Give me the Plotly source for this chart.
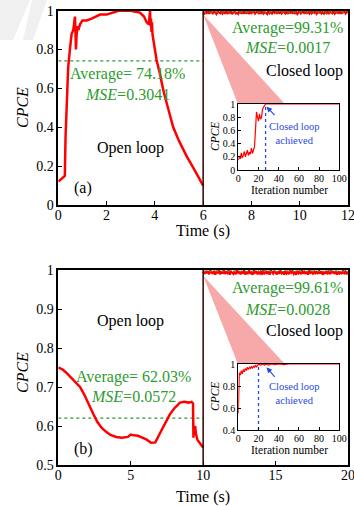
import plotly.graph_objects as go
import numpy as np

W, H = 354, 506
SERIF = "Liberation Serif"

# ---------------- DATA ----------------
# Panel (a) open loop
a_open_t = [0, 0.1, 0.2, 0.27, 0.3, 0.35, 0.41, 0.48, 0.55, 0.62, 0.69, 0.71, 0.73, 0.76, 0.8, 0.83,
            0.9, 1.0, 1.18, 1.4, 1.73, 2.0, 2.28, 2.5, 2.7, 3.0, 3.2, 3.38, 3.55, 3.66, 3.75, 3.78,
            3.8, 3.82, 3.84, 3.86, 3.88, 3.9, 3.94, 4.07, 4.2, 4.35, 4.5, 4.76, 5.0, 5.32, 5.6, 5.87, 6.0]
a_open_y = [0.12, 0.13, 0.14, 0.15, 0.35, 0.55, 0.71, 0.80, 0.88, 0.90, 0.97, 0.90, 0.80, 0.88, 0.92, 0.90,
            0.93, 0.95, 0.95, 0.96, 0.98, 0.98, 0.99, 1.0, 1.0, 1.0, 0.995, 0.99, 0.97, 0.94, 0.93, 0.97,
            1.0, 0.92, 0.96, 0.89, 0.94, 0.88, 0.85, 0.746, 0.68, 0.59, 0.52, 0.40, 0.33, 0.25, 0.19, 0.13, 0.10]
# Panel (a) closed loop (t = 6..12)
a_closed_y = [0.99, 0.985, 0.995, 0.988, 0.998, 0.984, 0.996, 0.99, 0.986, 0.997, 0.989, 0.983, 0.995,
              0.991, 0.987, 0.999, 0.985, 0.993, 0.988, 0.997, 0.984, 0.994, 0.989, 0.998, 0.983, 0.992,
              0.996, 0.986, 0.99, 0.984, 0.997, 0.989, 0.987, 0.999, 0.985, 0.995, 0.988, 0.993, 0.984,
              0.998, 0.987, 0.991, 0.996, 0.985, 0.99, 0.999, 0.984, 0.994, 0.988, 0.997, 0.985, 0.992,
              0.99, 0.983, 0.998, 0.987, 0.993, 0.986, 0.999, 0.989, 0.995, 0.984, 0.996, 0.988, 0.992,
              0.985, 0.998, 0.99, 0.986, 0.997, 0.984, 0.993, 0.989, 0.999, 0.985, 0.994, 0.987, 0.996,
              0.983, 0.991, 0.998, 0.986, 0.99, 0.997, 0.984, 0.995, 0.988, 0.992, 0.985, 0.999, 0.987,
              0.994, 0.989, 0.996, 0.984, 0.993, 0.99, 0.998, 0.986, 0.992, 0.985, 0.997, 0.988, 0.994,
              0.983, 0.996, 0.99, 0.987, 0.999, 0.985, 0.993, 0.989, 0.997, 0.984, 0.995, 0.988, 0.991,
              0.998, 0.986, 0.994, 0.99]
a_closed_t = np.linspace(6, 12, len(a_closed_y))
a_avg_open, a_avg_closed = 0.7418, 0.9931

# Panel (a) inset (iteration number)
a_in_x = [0, 1, 2, 3, 4, 5, 6, 7, 8, 9, 10, 11, 12, 13, 14, 15, 16, 17, 18, 19, 20, 21, 22, 23, 24, 25, 26, 27, 100]
a_in_y = [0.15, 0.2, 0.17, 0.26, 0.18, 0.22, 0.28, 0.2, 0.25, 0.3, 0.22, 0.27, 0.24, 0.33, 0.25, 0.3, 0.35,
          0.6, 0.88, 0.8, 0.74, 0.85, 0.77, 0.8, 0.92, 0.95, 0.98, 1.0, 1.0]
a_in_achieved = 27

# Panel (b) open loop
b_open_t = [0, 0.3, 0.6, 1.0, 1.5, 1.8, 2.1, 2.4, 2.7, 3.0, 3.3, 3.6, 4.0, 4.4, 4.8, 5.0, 5.2, 5.5, 5.8,
            6.1, 6.4, 6.7, 7.0, 7.3, 7.7, 8.0, 8.4, 8.7, 9.0, 9.2, 9.3, 9.33, 9.36, 9.4, 9.45, 9.5, 9.6,
            9.7, 9.8, 9.9, 10.0]
b_open_y = [0.75, 0.745, 0.735, 0.72, 0.70, 0.68, 0.655, 0.632, 0.61, 0.595, 0.585, 0.577, 0.572, 0.57,
            0.572, 0.578, 0.576, 0.575, 0.57, 0.565, 0.557, 0.558, 0.58, 0.60, 0.63, 0.645, 0.66, 0.662,
            0.66, 0.662, 0.658, 0.57, 0.6, 0.59, 0.6, 0.58, 0.565, 0.56, 0.555, 0.55, 0.545]
# Panel (b) closed loop (t = 10..20)
b_closed_y = [0.995, 0.99, 0.998, 0.992, 0.997, 0.989, 0.999, 0.994, 0.99, 0.998, 0.988, 0.996, 0.993,
              0.999, 0.989, 0.997, 0.991, 0.999, 0.99, 0.995, 0.992, 0.999, 0.988, 0.996, 0.994, 0.99,
              0.998, 0.989, 0.999, 0.993, 0.997, 0.989, 0.995, 0.991, 0.999, 0.988, 0.996, 0.992, 0.999,
              0.99, 0.994, 0.988, 0.999, 0.993, 0.997, 0.989, 0.995, 0.991, 0.998, 0.988, 0.999, 0.992,
              0.996, 0.99, 0.997, 0.988, 0.999, 0.994, 0.991, 0.998, 0.993, 0.989, 0.997, 0.99, 0.999,
              0.992, 0.996, 0.988, 0.998, 0.991, 0.995, 0.989, 0.999, 0.993, 0.997, 0.99, 0.994, 0.988,
              0.998, 0.992, 0.996, 0.989, 0.999, 0.991, 0.995, 0.99, 0.997, 0.988, 0.999, 0.993, 0.996,
              0.989, 0.998, 0.992, 0.995, 0.99, 0.999, 0.991, 0.997, 0.988, 0.994, 0.99, 0.998, 0.992,
              0.996, 0.989, 0.999, 0.993, 0.995, 0.99, 0.998, 0.988, 0.997, 0.991, 0.994, 0.99, 0.999,
              0.992, 0.996, 0.989, 0.995]
b_closed_t = np.linspace(10, 20, len(b_closed_y))
b_avg_open, b_avg_closed = 0.6203, 0.9961

# Panel (b) inset
b_in_x = [0, 1, 2, 3, 4, 5, 6, 7, 8, 9, 10, 11, 12, 13, 14, 15, 16, 17, 18, 19, 20, 22, 24, 26, 28, 30,
          33, 36, 40, 45, 50, 100]
b_in_y = [0.55, 0.92, 0.9, 0.94, 0.91, 0.95, 0.93, 0.96, 0.94, 0.97, 0.95, 0.97, 0.96, 0.98, 0.96, 0.98,
          0.97, 0.99, 0.97, 0.99, 1.0, 0.99, 1.0, 0.99, 1.0, 0.99, 1.0, 0.995, 1.0, 0.995, 1.0, 1.0]
b_in_achieved = 20

# ---------------- LAYOUT HELPERS ----------------
def px(x):
    return x / W

def py(y):
    return 1 - y / H

RED = "#ff0000"
GREEN = "#2e9b2e"
BLUE = "#2846e0"
PINK = "#f7a9a9"

fig = go.Figure()

# main traces
fig.add_trace(go.Scatter(x=[0, 6], y=[a_avg_open] * 2, mode="lines",
                         line=dict(color=GREEN, width=1.3, dash="dot"), xaxis="x", yaxis="y"))
fig.add_trace(go.Scatter(x=a_open_t, y=a_open_y, mode="lines",
                         line=dict(color=RED, width=2.5), xaxis="x", yaxis="y"))
fig.add_trace(go.Scatter(x=a_closed_t, y=a_closed_y, mode="lines",
                         line=dict(color=RED, width=2.2), xaxis="x", yaxis="y"))
fig.add_trace(go.Scatter(x=[6, 12], y=[a_avg_closed] * 2, mode="lines",
                         line=dict(color=GREEN, width=1.0, dash="dot"), xaxis="x", yaxis="y"))

fig.add_trace(go.Scatter(x=a_in_x, y=a_in_y, mode="lines",
                         line=dict(color=RED, width=1.2), xaxis="x2", yaxis="y2"))
fig.add_trace(go.Scatter(x=[a_in_achieved] * 2, y=[0, 1], mode="lines",
                         line=dict(color=BLUE, width=1.3, dash="dot"), xaxis="x2", yaxis="y2"))

fig.add_trace(go.Scatter(x=[0, 10], y=[b_avg_open] * 2, mode="lines",
                         line=dict(color=GREEN, width=1.3, dash="dot"), xaxis="x3", yaxis="y3"))
fig.add_trace(go.Scatter(x=b_open_t, y=b_open_y, mode="lines",
                         line=dict(color=RED, width=2.5), xaxis="x3", yaxis="y3"))
fig.add_trace(go.Scatter(x=b_closed_t, y=b_closed_y, mode="lines",
                         line=dict(color=RED, width=2.2), xaxis="x3", yaxis="y3"))
fig.add_trace(go.Scatter(x=[10, 20], y=[b_avg_closed] * 2, mode="lines",
                         line=dict(color=GREEN, width=1.0, dash="dot"), xaxis="x3", yaxis="y3"))

fig.add_trace(go.Scatter(x=b_in_x, y=b_in_y, mode="lines",
                         line=dict(color=RED, width=1.2), xaxis="x4", yaxis="y4"))
fig.add_trace(go.Scatter(x=[b_in_achieved] * 2, y=[0.4, 1], mode="lines",
                         line=dict(color=BLUE, width=1.3, dash="dot"), xaxis="x4", yaxis="y4"))

def ax(**kw):
    d = dict(showline=True, linecolor="black", linewidth=1.5, mirror=True, ticks="inside",
             ticklen=4, tickcolor="black", showgrid=False, zeroline=False, automargin=False,
             ticklabeloverflow="allow",
             tickfont=dict(family=SERIF, size=14, color="black"))
    d.update(kw)
    return d

def inax(**kw):
    d = ax(ticklen=3, tickfont=dict(family=SERIF, size=10, color="black"), linewidth=1.3)
    d.update(kw)
    return d

main_x = [px(58.3), px(348)]
in_x = [px(238.3), px(339.3)]

fig.update_layout(
    width=W, height=H, margin=dict(l=0, r=0, t=0, b=0, autoexpand=False),
    paper_bgcolor="white", plot_bgcolor="white", showlegend=False,
    xaxis=ax(domain=main_x, anchor="y", range=[0, 12], dtick=2, ticklabelstandoff=-4),
    yaxis=ax(domain=[py(205), py(10.7)], anchor="x", range=[0, 1], dtick=0.2),
    xaxis2=inax(domain=in_x, anchor="y2", range=[0, 100], dtick=20, ticklabelstandoff=-1),
    yaxis2=inax(domain=[py(170), py(104)], anchor="x2", range=[0, 1], dtick=0.2),
    xaxis3=ax(domain=main_x, anchor="y3", range=[0, 20], dtick=5, ticklabelstandoff=-4),
    yaxis3=ax(domain=[py(465), py(270)], anchor="x3", range=[0.5, 1], dtick=0.1),
    xaxis4=inax(domain=in_x, anchor="y4", range=[0, 100], dtick=20, ticklabelstandoff=-1),
    yaxis4=inax(domain=[py(430), py(364)], anchor="x4", range=[0.4, 1], dtick=0.2),
)

shapes = [
    # watermark
    dict(type="path", xref="paper", yref="paper", layer="below",
         path=f"M 0,1 L {px(30)},1 L {px(13)},{py(40)} L 0,{py(40)} Z",
         fillcolor="#f0f0f0", line=dict(width=0)),
    dict(type="path", xref="paper", yref="paper", layer="below",
         path=f"M {px(32)},1 L {px(47)},1 L {px(33)},{py(40)} L {px(23)},{py(40)} Z",
         fillcolor="#f0f0f0", line=dict(width=0)),
    # zoom triangles
    dict(type="path", xref="x", yref="y", layer="below",
         path="M 6,0.98 L 7.44,0.52 L 9.39,0.52 Z", fillcolor=PINK, line=dict(width=0)),
    dict(type="path", xref="x3", yref="y3", layer="below",
         path="M 10,0.985 L 12.4,0.759 L 15.64,0.759 Z", fillcolor=PINK, line=dict(width=0)),
    # separators
    dict(type="line", xref="x", yref="y", x0=6, x1=6, y0=0, y1=1, line=dict(color="#300", width=1.5)),
    dict(type="line", xref="x3", yref="y3", x0=10, x1=10, y0=0.5, y1=1, line=dict(color="#300", width=1.5)),
]
fig.update_layout(shapes=shapes)

ann = []
def T(x, y, text, size=16, color="black", xanchor="center", angle=0):
    ann.append(dict(x=px(x), y=py(y), xref="paper", yref="paper", text=text, showarrow=False,
                    xanchor=xanchor, yanchor="middle", textangle=angle,
                    font=dict(family=SERIF, size=size, color=color)))

# panel (a)
T(127, 74, "Average= 74.18%", color=GREEN)
T(127, 94, "<i>MSE</i>=0.3041", color=GREEN)
T(130, 148, "Open loop")
T(83, 188, "(a)")
T(287, 28, "Average=99.31%", color=GREEN)
T(287, 47, "<i>MSE</i>=0.0017", color=GREEN)
T(304, 71, "Closed loop")
T(203, 231, "Time (s)")
T(22, 108, "<i>CPCE</i>", angle=-90)
T(289, 190, "Iteration number", size=11.5)
T(215, 137, "<i>CPCE</i>", size=11.5, angle=-90)
T(294, 133, "Closed loop<br>achieved", size=10.5, color=BLUE)

# panel (b)
T(130, 321, "Open loop")
T(133, 377, "Average= 62.03%", color=GREEN)
T(133, 396, "<i>MSE</i>=0.0572", color=GREEN)
T(83, 449, "(b)")
T(287, 288, "Average=99.61%", color=GREEN)
T(287, 309, "<i>MSE</i>=0.0028", color=GREEN)
T(304, 331, "Closed loop")
T(203, 497, "Time (s)")
T(22, 373, "<i>CPCE</i>", angle=-90)
T(289, 450, "Iteration number", size=11.5)
T(215, 397, "<i>CPCE</i>", size=11.5, angle=-90)
T(294, 393, "Closed loop<br>achieved", size=10.5, color=BLUE)

# arrows
ann.append(dict(x=28, y=0.96, xref="x2", yref="y2", ax=37.3, ay=0.81, axref="x2", ayref="y2",
                text="", showarrow=True, arrowhead=2, arrowsize=1, arrowwidth=1.1, arrowcolor=BLUE))
ann.append(dict(x=28, y=0.97, xref="x4", yref="y4", ax=37.3, ay=0.87, axref="x4", ayref="y4",
                text="", showarrow=True, arrowhead=2, arrowsize=1, arrowwidth=1.1, arrowcolor=BLUE))
fig.update_layout(annotations=ann)

post = ("document.documentElement.style.overflow='hidden';"
        "document.body.style.margin='0px';document.body.style.overflow='hidden';"
        "var d=document.getElementById('{plot_id}');"
        "d.style.position='fixed';d.style.left='0px';d.style.top='0px';")
fig.write_html("out.html", config={"displayModeBar": False}, post_script=post)
